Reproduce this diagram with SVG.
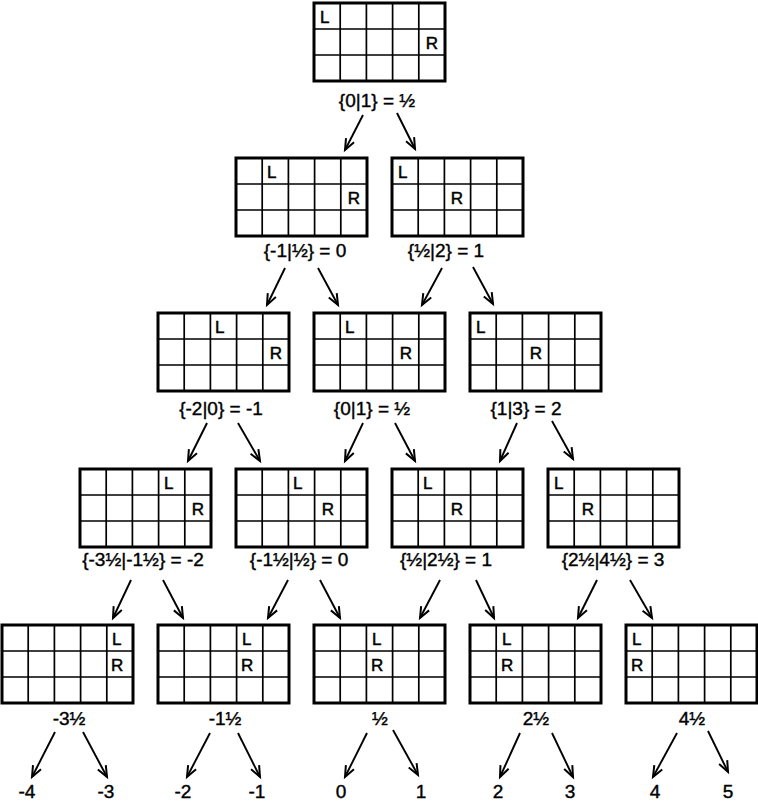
<svg xmlns="http://www.w3.org/2000/svg" xmlns:xlink="http://www.w3.org/1999/xlink" width="758" height="803" viewBox="0 0 758 803">
<style>
.frame{fill:#fff;stroke:#000;stroke-width:3}
.gl{stroke:#000;stroke-width:1.7;fill:none}
.lr{font-family:"Liberation Sans",Arial,sans-serif;font-size:17px;fill:#000;stroke:#000;stroke-width:0.5}
.c{text-anchor:middle}
.lab{font-family:"Liberation Sans",Arial,sans-serif;font-size:19px;fill:#000;stroke:#000;stroke-width:0.4;text-anchor:middle}
.arr{stroke:#000;stroke-width:1.9;fill:none;marker-end:url(#ah)}
</style>
<defs>
<marker id="ah" markerUnits="userSpaceOnUse" markerWidth="14" markerHeight="12" refX="11" refY="4.5" orient="auto" overflow="visible">
<path d="M0,0 L11,4.5 L0,9" fill="none" stroke="#000" stroke-width="2" stroke-linejoin="miter"/>
</marker>
<g id="grid">
<rect class="frame" x="0" y="0" width="131" height="78"/>
<path class="gl" d="M26.2,0V78M52.4,0V78M78.6,0V78M104.8,0V78M0,26H131M0,52H131"/>
</g>
</defs>
<rect width="758" height="803" fill="#fff"/>

<g id="connectors">
<line class="arr" x1="363" y1="115" x2="345" y2="150"/>
<line class="arr" x1="397" y1="113" x2="415" y2="149"/>
<line class="arr" x1="285" y1="268" x2="267" y2="305"/>
<line class="arr" x1="318" y1="268" x2="338" y2="305"/>
<line class="arr" x1="442" y1="268" x2="422" y2="305"/>
<line class="arr" x1="473" y1="267" x2="493" y2="304"/>
<line class="arr" x1="207" y1="423" x2="188" y2="461"/>
<line class="arr" x1="238" y1="423" x2="260" y2="461"/>
<line class="arr" x1="363" y1="423" x2="345" y2="461"/>
<line class="arr" x1="395" y1="423" x2="415" y2="461"/>
<line class="arr" x1="517" y1="423" x2="500" y2="461"/>
<line class="arr" x1="552" y1="421" x2="573" y2="459"/>
<line class="arr" x1="131" y1="580" x2="113" y2="618"/>
<line class="arr" x1="163" y1="580" x2="183" y2="618"/>
<line class="arr" x1="288" y1="580" x2="268" y2="618"/>
<line class="arr" x1="320" y1="580" x2="340" y2="618"/>
<line class="arr" x1="440" y1="580" x2="420" y2="618"/>
<line class="arr" x1="476" y1="580" x2="494" y2="618"/>
<line class="arr" x1="597" y1="580" x2="578" y2="618"/>
<line class="arr" x1="630" y1="580" x2="652" y2="618"/>
<line class="arr" x1="55" y1="732" x2="32" y2="777"/>
<line class="arr" x1="83" y1="732" x2="107" y2="777"/>
<line class="arr" x1="210" y1="733" x2="187" y2="777"/>
<line class="arr" x1="238" y1="733" x2="260" y2="777"/>
<line class="arr" x1="367" y1="733" x2="345" y2="777"/>
<line class="arr" x1="393" y1="730" x2="418" y2="775"/>
<line class="arr" x1="520" y1="733" x2="500" y2="777"/>
<line class="arr" x1="552" y1="733" x2="573" y2="777"/>
<line class="arr" x1="677" y1="733" x2="653" y2="777"/>
<line class="arr" x1="708" y1="731" x2="728" y2="772"/>
</g>

<!-- Level 1 -->
<g id="n1">
<use xlink:href="#grid" x="314" y="3"/>
<text class="lr" x="320" y="23">L</text>
<text class="lr c" x="432" y="49">R</text>
<text class="lab" x="377" y="107">{0|1} = ½</text>
</g>

<!-- Level 2 -->
<g id="n2a">
<use xlink:href="#grid" x="236" y="158"/>
<text class="lr" x="267" y="178">L</text>
<text class="lr c" x="354" y="204">R</text>
<text class="lab" x="305" y="257">{-1|½} = 0</text>
</g>
<g id="n2b">
<use xlink:href="#grid" x="392" y="158"/>
<text class="lr" x="398" y="178">L</text>
<text class="lr c" x="457" y="204">R</text>
<text class="lab" x="446" y="257">{½|2} = 1</text>
</g>

<!-- Level 3 -->
<g id="n3a">
<use xlink:href="#grid" x="158" y="313"/>
<text class="lr" x="215" y="333">L</text>
<text class="lr c" x="276" y="359">R</text>
<text class="lab" x="221" y="415">{-2|0} = -1</text>
</g>
<g id="n3b">
<use xlink:href="#grid" x="314" y="313"/>
<text class="lr" x="345" y="333">L</text>
<text class="lr c" x="406" y="359">R</text>
<text class="lab" x="372" y="415">{0|1} = ½</text>
</g>
<g id="n3c">
<use xlink:href="#grid" x="470" y="313"/>
<text class="lr" x="476" y="333">L</text>
<text class="lr c" x="536" y="359">R</text>
<text class="lab" x="526" y="415">{1|3} = 2</text>
</g>

<!-- Level 4 -->
<g id="n4a">
<use xlink:href="#grid" x="80" y="469"/>
<text class="lr" x="164" y="489">L</text>
<text class="lr c" x="198" y="515">R</text>
<text class="lab" x="143" y="566">{-3½|-1½} = -2</text>
</g>
<g id="n4b">
<use xlink:href="#grid" x="236" y="469"/>
<text class="lr" x="293" y="489">L</text>
<text class="lr c" x="328" y="515">R</text>
<text class="lab" x="299" y="566">{-1½|½} = 0</text>
</g>
<g id="n4c">
<use xlink:href="#grid" x="392" y="469"/>
<text class="lr" x="423" y="489">L</text>
<text class="lr c" x="457" y="515">R</text>
<text class="lab" x="446" y="566">{½|2½} = 1</text>
</g>
<g id="n4d">
<use xlink:href="#grid" x="548" y="469"/>
<text class="lr" x="554" y="489">L</text>
<text class="lr c" x="588" y="515">R</text>
<text class="lab" x="613" y="566">{2½|4½} = 3</text>
</g>

<!-- Level 5 -->
<g id="n5a">
<use xlink:href="#grid" x="2" y="625"/>
<text class="lr" x="112" y="645">L</text>
<text class="lr" x="111" y="671">R</text>
<text class="lab" x="69" y="725">-3½</text>
</g>
<g id="n5b">
<use xlink:href="#grid" x="158" y="625"/>
<text class="lr" x="242" y="645">L</text>
<text class="lr" x="241" y="671">R</text>
<text class="lab" x="225" y="725">-1½</text>
</g>
<g id="n5c">
<use xlink:href="#grid" x="314" y="625"/>
<text class="lr" x="372" y="645">L</text>
<text class="lr" x="371" y="671">R</text>
<text class="lab" x="380" y="725">½</text>
</g>
<g id="n5d">
<use xlink:href="#grid" x="470" y="625"/>
<text class="lr" x="502" y="645">L</text>
<text class="lr" x="501" y="671">R</text>
<text class="lab" x="536" y="725">2½</text>
</g>
<g id="n5e">
<use xlink:href="#grid" x="626" y="625"/>
<text class="lr" x="632" y="645">L</text>
<text class="lr" x="631" y="671">R</text>
<text class="lab" x="692" y="725">4½</text>
</g>

<!-- Leaves -->
<g id="leaves">
<text class="lab" x="27" y="798">-4</text>
<text class="lab" x="106" y="798">-3</text>
<text class="lab" x="183" y="798">-2</text>
<text class="lab" x="257" y="798">-1</text>
<text class="lab" x="341" y="798">0</text>
<text class="lab" x="421" y="798">1</text>
<text class="lab" x="498" y="798">2</text>
<text class="lab" x="570" y="798">3</text>
<text class="lab" x="655" y="798">4</text>
<text class="lab" x="728" y="798">5</text>
</g>
</svg>
